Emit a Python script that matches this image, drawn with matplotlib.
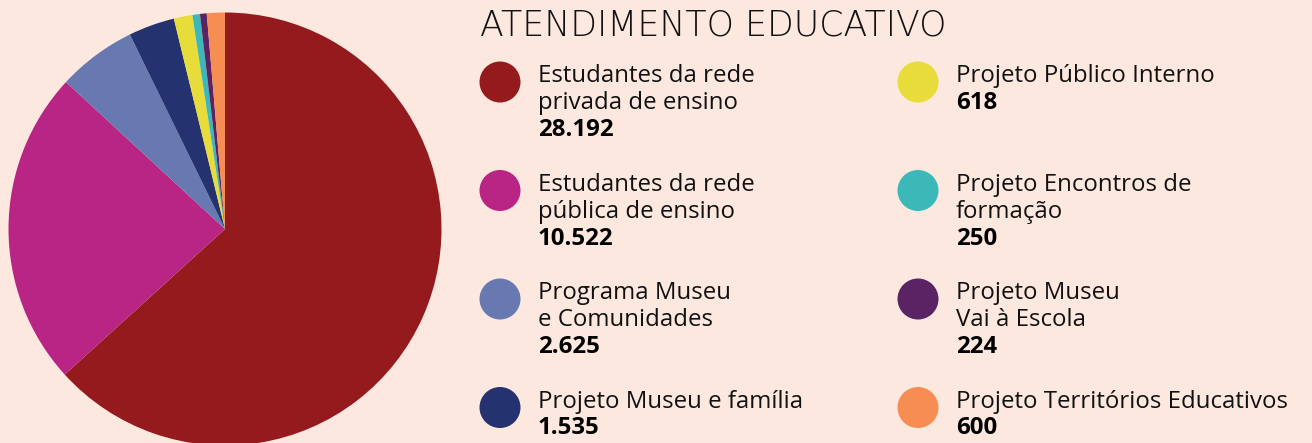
import matplotlib
matplotlib.use("Agg")
import matplotlib.pyplot as plt
from matplotlib.patches import Circle

# data
labels = [
    "Estudantes da rede\nprivada de ensino",
    "Estudantes da rede\npública de ensino",
    "Programa Museu\ne Comunidades",
    "Projeto Museu e família",
    "Projeto Público Interno",
    "Projeto Encontros de\nformação",
    "Projeto Museu\nVai à Escola",
    "Projeto Territórios Educativos",
]
values = [28192, 10522, 2625, 1535, 618, 250, 224, 600]
value_labels = ["28.192", "10.522", "2.625", "1.535", "618", "250", "224", "600"]
colors = ["#951a1d", "#b82584", "#6878b1", "#253270",
          "#e8dc3b", "#3cb8b8", "#5a2464", "#f68d53"]
title = "ATENDIMENTO EDUCATIVO"

bg = "#fde8df"
W, H = 1312, 443
fig = plt.figure(figsize=(W / 100, H / 100), dpi=100, facecolor=bg)
plt.rcParams['font.family'] = ['Open Sans', 'DejaVu Sans']

# pie, placed by pixels: centre (225, 229), radius 216.5
cx, cy, r = 225, 229, 216.5
pax = fig.add_axes([(cx - r) / W, (H - cy - r) / H, 2 * r / W, 2 * r / H])
pax.pie(values, colors=colors, startangle=90, counterclock=False,
        wedgeprops=dict(linewidth=0))
pax.set_xlim(-1, 1)
pax.set_ylim(-1, 1)
pax.set_facecolor("none")

# overlay for title and legend, pixel coordinates
ax = fig.add_axes([0, 0, 1, 1])
ax.set_xlim(0, W)
ax.set_ylim(H, 0)
ax.axis("off")
ax.patch.set_alpha(0)

ax.text(480, 35, title, fontsize=25, fontweight="light", va="baseline",
        color="#111111", family=["DejaVu Sans"])

col_x = [500, 918]
for i, (lab, val, col) in enumerate(zip(labels, value_labels, colors)):
    c = i // 4
    row = i % 4
    yc = 82 + 108.5 * row
    ax.add_patch(Circle((col_x[c], yc), 20.5, color=col, lw=0))
    tx = col_x[c] + 38
    lines = lab.split("\n")
    y = yc
    for ln in lines:
        ax.text(tx, y, ln, fontsize=17.3, va="baseline", color="#111111")
        y += 27
    ax.text(tx, y, val, fontsize=17.3, fontweight="bold", va="baseline",
            color="#000000")

fig.savefig("out.png", dpi=100, facecolor=bg)
